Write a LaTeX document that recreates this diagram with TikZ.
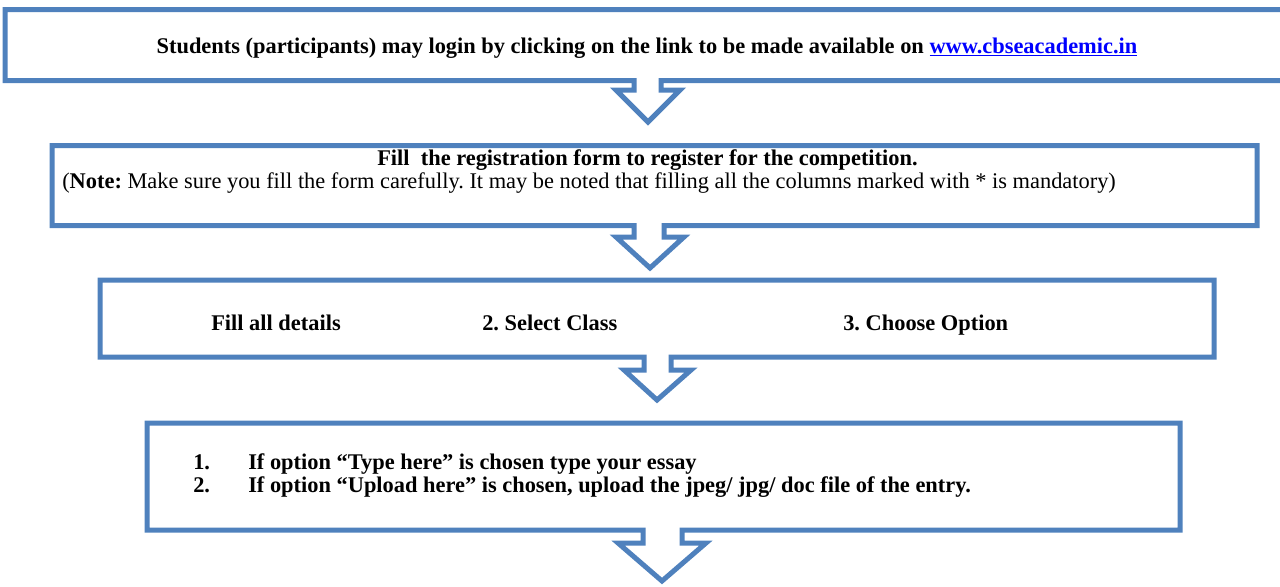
\documentclass[tikz,border=0pt]{standalone}
\usepackage{fontspec}
\setmainfont{Liberation Serif}
\frenchspacing
\definecolor{boxblue}{HTML}{4F81BD}
\definecolor{linkblue}{RGB}{0,0,255}
\tikzset{
  flow/.style={draw=boxblue, line width=3.75pt, line join=miter, fill=white},
  txt/.style={anchor=base west, inner sep=0pt, font=\fontsize{16.8}{19}\selectfont\bfseries},
  txtc/.style={anchor=base, inner sep=0pt, font=\fontsize{16.8}{19}\selectfont\bfseries},
}
% #1 L, #2 T, #3 R, #4 B, #5 stem left, #6 stem right, #7 wing y, #8 wing left, #9 wing right ; tip set separately
\newcommand\flowshape[9]{%
  \draw[flow] (#1,#2) -- (#3,#2) -- (#3,#4) -- (#6,#4) -- (#6,#7) -- (#9,#7) -- (tip) -- (#8,#7) -- (#5,#7) -- (#5,#4) -- (#1,#4) -- cycle;}
\begin{document}
\begin{tikzpicture}[x=0.75pt,y=-0.75pt]
\useasboundingbox (0,0) rectangle (1280,586);
\clip (0,0) rectangle (1280,586);
% box 1
\coordinate (tip) at (648,122);
\flowshape{5}{9.5}{1300}{80.5}{634}{661}{90}{616}{680}
\node[txtc] (t1) at (647,53) {Students (participants) may login by clicking on the link to be made available on \textcolor{linkblue}{\underline{www.cbseacademic.in}}};
% box 2
\coordinate (tip) at (650,268);
\flowshape{52}{145.5}{1257}{225.5}{634}{664}{237}{616}{684}
\node[txt] (t2a) at (377,165) {Fill\ \ the registration form to register for the competition.};
\node[txt, font=\fontsize{16.8}{19}\selectfont] (t2b) at (62,188) {(\textbf{Note:} Make sure you fill the form carefully. It may be noted that filling all the columns marked with * is mandatory)};
% box 3
\coordinate (tip) at (657,400);
\flowshape{100}{280}{1214}{357}{644}{671}{370}{624}{691}
\node[txt] (t3a) at (211,330) {Fill all details};
\node[txt] (t3b) at (482,330) {2. Select Class};
\node[txt] (t3c) at (843,330) {3. Choose Option};
% box 4
\coordinate (tip) at (662,581);
\flowshape{147}{423}{1180}{530}{643}{682}{543}{618}{706}
\node[txt] (n1) at (193,469) {1.};
\node[txt] (t4a) at (248,469) {If option ``Type here'' is chosen type your essay};
\node[txt] (n2) at (193,492) {2.};
\node[txt] (t4b) at (248,492) {If option ``Upload here'' is chosen, upload the jpeg/ jpg/ doc file of the entry.};
\end{tikzpicture}
\end{document}
